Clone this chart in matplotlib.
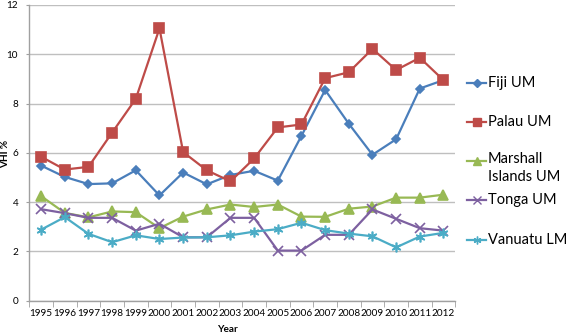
import matplotlib
matplotlib.use("Agg")

import matplotlib.pyplot as plt
from matplotlib.lines import Line2D

plt.rcParams["font.family"] = ["Lato", "DejaVu Sans"]

YEARS = list(range(1995, 2013))

FIJI = [5.48, 5.02, 4.73, 4.76, 5.29, 4.27, 5.20, 4.72, 5.10, 5.27,
        4.87, 6.69, 8.55, 7.18, 5.92, 6.55, 8.61, 8.95]
PALAU = [5.84, 5.32, 5.43, 6.82, 8.19, 11.05, 6.03, 5.29, 4.84, 5.77,
         7.03, 7.15, 9.03, 9.27, 10.22, 9.36, 9.86, 8.95]
MARSHALL = [4.24, 3.56, 3.38, 3.62, 3.59, 2.94, 3.41, 3.70, 3.90, 3.80,
            3.90, 3.41, 3.40, 3.73, 3.82, 4.18, 4.18, 4.30]
TONGA = [3.71, 3.55, 3.36, 3.36, 2.84, 3.12, 2.57, 2.57, 3.36, 3.36,
         2.03, 2.03, 2.67, 2.67, 3.70, 3.32, 2.94, 2.84]
VANUATU = [2.88, 3.39, 2.71, 2.37, 2.65, 2.50, 2.56, 2.57, 2.65, 2.80,
           2.90, 3.16, 2.86, 2.72, 2.61, 2.16, 2.60, 2.75]

SERIES = [
    ("Fiji UM", FIJI, "#4A7EBB", "D", 4.5),
    ("Palau UM", PALAU, "#BE4B48", "s", 6.5),
    ("Marshall\nIslands UM", MARSHALL, "#98B954", "^", 6.5),
    ("Tonga UM", TONGA, "#7D60A0", "x", 6.5),
    ("Vanuatu LM", VANUATU, "#4BACC6", (6, 2, 0), 7),
]

W, H = 567, 335
fig = plt.figure(figsize=(W / 100, H / 100), dpi=100)
ax = fig.add_axes([29.3 / W, 1 - 300.6 / H, 426 / W, 295.6 / H])

x = list(range(len(YEARS)))
for name, vals, color, marker, ms in SERIES:
    ax.plot(x, vals, color=color, lw=1.6, marker=marker, markersize=ms,
            markerfacecolor=color, markeredgecolor=color, markeredgewidth=1.2,
            zorder=3)

ax.set_xlim(-0.5, len(YEARS) - 0.5)
ax.set_ylim(0, 12)
ax.set_yticks(range(0, 13, 2))
ax.set_xticks(x)
ax.set_xticklabels([str(y) for y in YEARS])
ax.set_xticks([i - 0.5 for i in range(len(YEARS) + 1)], minor=True)
ax.tick_params(axis="x", which="major", length=0, labelsize=7.2, pad=6)
ax.tick_params(axis="x", which="minor", length=4, color="#A0A0A0",
               direction="out")
ax.tick_params(axis="y", length=2, color="#A0A0A0", labelsize=7.2, pad=6)
ax.grid(axis="y", color="#BFBFBF", lw=1.0)
ax.set_axisbelow(True)
for side in ["top", "right"]:
    ax.spines[side].set_visible(False)
for side in ["left", "bottom"]:
    ax.spines[side].set_color("#A0A0A0")
    ax.spines[side].set_linewidth(1.0)

fig.text(227 / W, 1 - 329 / H, "Year", fontsize=7.2, fontweight="bold",
         ha="center", va="center")
fig.text(6 / W, 1 - 154 / H, "VHI %", fontsize=7.2, fontweight="bold",
         rotation=90, ha="center", va="center")

# legend drawn by hand to mimic the spreadsheet layout
for i, (name, vals, color, marker, ms) in enumerate(SERIES):
    yf = 1 - (82.7 + i * 39.2) / H
    fig.add_artist(Line2D([467 / W, 486 / W], [yf, yf], color=color,
                          lw=1.6, transform=fig.transFigure))
    fig.add_artist(Line2D([476.5 / W], [yf], color=color, marker=marker,
                          markersize=ms * 0.8, markeredgewidth=1.0,
                          transform=fig.transFigure))
    if "\n" in name:
        fig.text(488 / W, yf + 9 / H, name, fontsize=10.5, ha="left",
                 va="top", linespacing=1.35)
    else:
        fig.text(488 / W, yf, name, fontsize=10.5, ha="left", va="center")

fig.savefig("out.png", dpi=100)
